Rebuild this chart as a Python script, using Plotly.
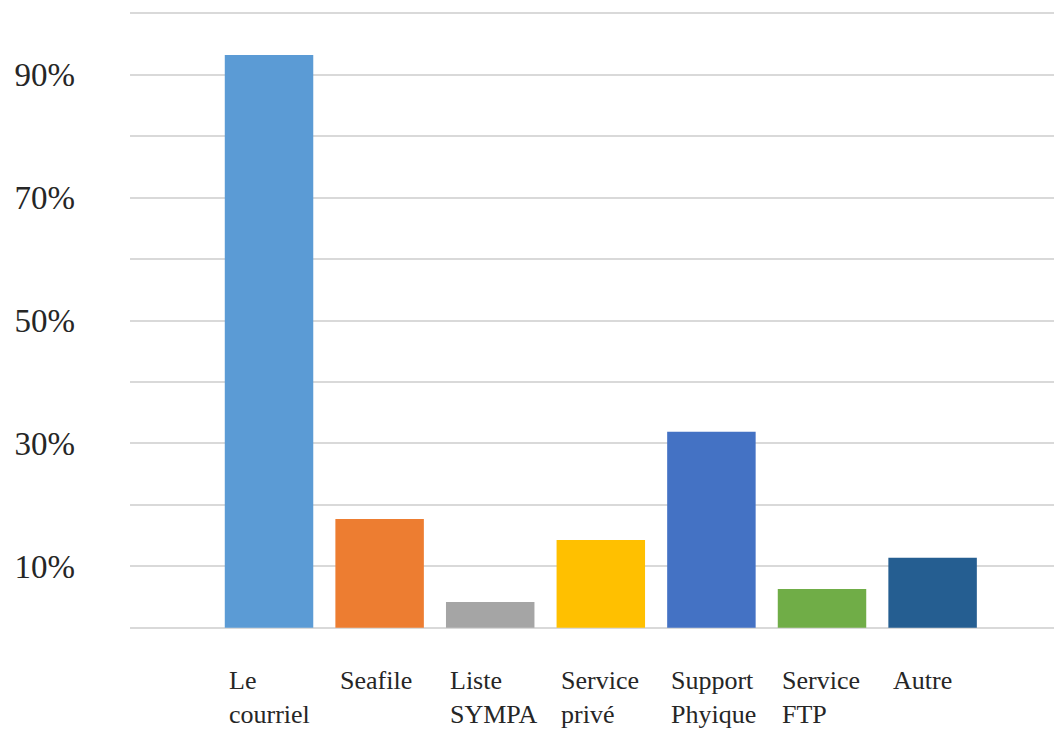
import plotly.graph_objects as go

categories = ["Le<br>courriel", "Seafile", "Liste<br>SYMPA", "Service<br>privé",
              "Support<br>Phyique", "Service<br>FTP", "Autre"]
values = [93.2, 17.7, 4.2, 14.3, 31.9, 6.3, 11.4]
colors = ["#5B9BD5", "#ED7D31", "#A5A5A5", "#FFC000", "#4472C4", "#70AD47", "#255E91"]
ytick_vals = [10, 30, 50, 70, 90]
ytick_text = ["10%", "30%", "50%", "70%", "90%"]
grid_vals = [0, 10, 20, 30, 40, 50, 60, 70, 80, 90, 100]

xs = list(range(len(categories)))

fig = go.Figure()
fig.add_trace(go.Bar(x=xs, y=values, marker_color=colors, width=0.8,
                     marker_line_width=0, showlegend=False))

for i, c in enumerate(categories):
    fig.add_annotation(x=i - 0.38, xref="x", y=-0.056, yref="paper",
                       text=c, showarrow=False, xanchor="left", yanchor="top",
                       align="left",
                       font=dict(family="Liberation Serif", size=26, color="#262626"))

fig.update_layout(
    width=1054, height=725,
    margin=dict(l=122, r=0, t=4, b=104),
    paper_bgcolor="white", plot_bgcolor="white",
    bargap=0.2,
    xaxis=dict(range=[-1.257, 7.17], showticklabels=False, showgrid=False,
               zeroline=False, ticks=""),
    yaxis=dict(range=[-0.2, 100.2], tickvals=ytick_vals, ticktext=ytick_text,
               showgrid=False, zeroline=False, ticks="",
               ticklabelstandoff=54,
               tickfont=dict(family="Liberation Serif", size=33, color="#262626"),
               minor=dict(tickvals=grid_vals,
                          showgrid=True, gridcolor="#D9D9D9", gridwidth=2, ticks="")),
)

fig.write_html("out.html")
